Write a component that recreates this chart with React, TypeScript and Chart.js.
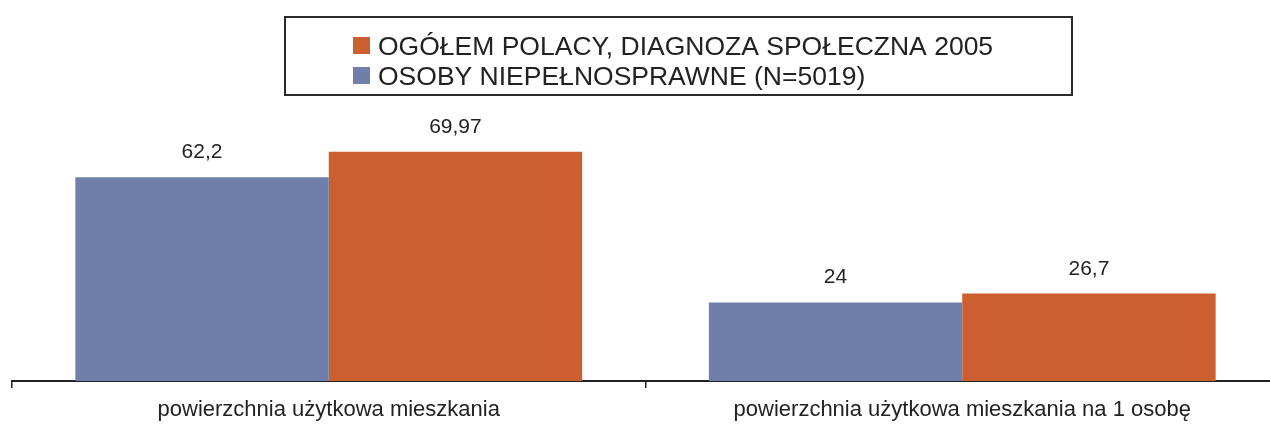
import { useEffect, useRef } from "react";
import { Chart, registerables } from "chart.js";

Chart.register(...registerables);

const categories = [
  "powierzchnia użytkowa mieszkania",
  "powierzchnia użytkowa mieszkania na 1 osobę",
];
const seriesNames = [
  "OSOBY NIEPEŁNOSPRAWNE (N=5019)",
  "OGÓŁEM POLACY, DIAGNOZA SPOŁECZNA 2005",
];
const disabledValues = [62.2, 24];
const allPolesValues = [69.97, 26.7];
const seriesColors = ["#6f7faa", "#cc5f2f"];
const yMin = 0;
const yMax = 80;

const FONT = "'Liberation Sans', Arial, Helvetica, sans-serif";
const TEXT = "#222222";

const fmt = (v: number) => String(v).replace(".", ",");

const valueLabels = {
  id: "valueLabels",
  afterDatasetsDraw(chart: any) {
    const ctx = chart.ctx;
    ctx.save();
    ctx.font = `21px ${FONT}`;
    ctx.fillStyle = TEXT;
    ctx.textAlign = "center";
    ctx.textBaseline = "alphabetic";
    chart.data.datasets.forEach((ds: any, i: number) => {
      const meta = chart.getDatasetMeta(i);
      meta.data.forEach((el: any, j: number) => {
        ctx.fillText(fmt(ds.data[j]), el.x, el.y - 19);
      });
    });
    ctx.restore();
  },
};

const boxLegend = {
  id: "boxLegend",
  afterDraw(chart: any) {
    const ctx = chart.ctx;
    ctx.save();
    ctx.strokeStyle = "#2a2a2a";
    ctx.lineWidth = 2;
    ctx.strokeRect(285, 17, 787, 78);
    const items = chart.data.datasets.slice().reverse();
    ctx.font = `26.5px ${FONT}`;
    ctx.textAlign = "left";
    ctx.textBaseline = "middle";
    items.forEach((ds: any, k: number) => {
      const cy = 45 + k * 30;
      ctx.fillStyle = ds.backgroundColor;
      ctx.fillRect(353, cy - 8, 17, 17);
      ctx.fillStyle = TEXT;
      ctx.fillText(ds.label, 378, cy + 3);
    });
    ctx.restore();
  },
};

export default function App() {
  const ref = useRef<HTMLCanvasElement | null>(null);
  useEffect(() => {
    document.body.style.margin = "0";
    const canvas = ref.current;
    if (!canvas) return;
    const chart = new Chart(canvas, {
      type: "bar",
      data: {
        labels: categories,
        datasets: [
          {
            label: seriesNames[0],
            data: disabledValues,
            backgroundColor: seriesColors[0],
            categoryPercentage: 0.8,
            barPercentage: 1.0,
          },
          {
            label: seriesNames[1],
            data: allPolesValues,
            backgroundColor: seriesColors[1],
            categoryPercentage: 0.8,
            barPercentage: 1.0,
          },
        ],
      },
      options: {
        responsive: false,
        animation: false,
        layout: { padding: { top: 119, left: 12, right: 21, bottom: 0 } },
        plugins: {
          legend: { display: false },
          tooltip: { enabled: false },
        },
        scales: {
          x: {
            afterFit: (scale: any) => {
              scale.height = 44;
            },
            grid: {
              display: true,
              drawOnChartArea: false,
              drawTicks: true,
              tickLength: 7,
              color: "#222222",
              lineWidth: 1.5,
              offset: true,
            },
            border: { display: true, color: "#222222", width: 2 },
            ticks: {
              color: TEXT,
              font: { family: FONT, size: 22 },
              padding: 9,
              maxRotation: 0,
            },
          },
          y: {
            display: false,
            min: yMin,
            max: yMax,
          },
        },
      },
      plugins: [valueLabels, boxLegend],
    });
    return () => chart.destroy();
  }, []);
  return (
    <div style={{ width: 1270, height: 425, overflow: "hidden", background: "#fff" }}>
      <canvas ref={ref} width={1300} height={425} style={{ display: "block" }} />
    </div>
  );
}
